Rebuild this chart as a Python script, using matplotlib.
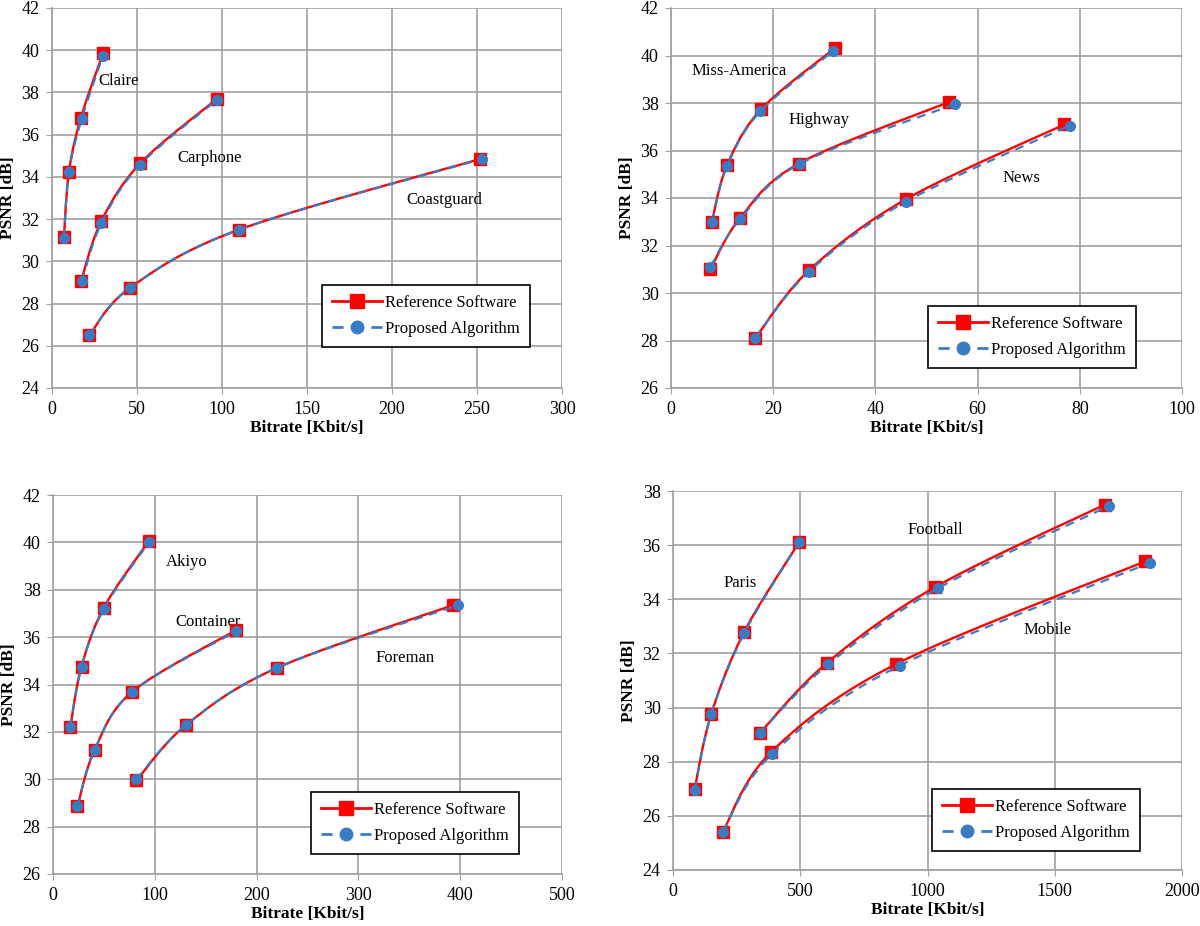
import matplotlib
matplotlib.use("Agg")
import matplotlib.pyplot as plt
import numpy as np

plt.rcParams["font.family"] = ["Liberation Serif", "DejaVu Serif"]

RED = "#ff0000"
BLUE = "#3a7cc4"

# ---- data ----
# panel 1
claire_x_ref = [7, 10, 17, 30]
claire_y_ref = [31.15, 34.25, 36.8, 39.85]
claire_x_pro = [7, 10, 17.5, 30]
claire_y_pro = [31.1, 34.25, 36.75, 39.75]
carphone_x_ref = [17, 29, 52, 97]
carphone_y_ref = [29.05, 31.9, 34.65, 37.7]
carphone_x_pro = [17.5, 29, 51.5, 97]
carphone_y_pro = [29.05, 31.8, 34.55, 37.65]
coast_x_ref = [22, 46, 110, 252]
coast_y_ref = [26.5, 28.75, 31.5, 34.85]
coast_x_pro = [22, 46, 110, 253]
coast_y_pro = [26.5, 28.75, 31.5, 34.85]

# panel 2
miss_x_ref = [8, 11, 17.7, 32]
miss_y_ref = [33.0, 35.4, 37.75, 40.3]
miss_x_pro = [8, 11, 17.5, 31.8]
miss_y_pro = [33.0, 35.35, 37.65, 40.2]
highway_x_ref = [7.7, 13.5, 25, 54.5]
highway_y_ref = [31.0, 33.15, 35.45, 38.05]
highway_x_pro = [7.7, 13.5, 25.3, 55.5]
highway_y_pro = [31.1, 33.1, 35.45, 37.95]
news_x_ref = [16.5, 27, 46, 77]
news_y_ref = [28.1, 30.95, 33.95, 37.1]
news_x_pro = [16.5, 27, 46, 78]
news_y_pro = [28.1, 30.9, 33.85, 37.05]

# panel 3
akiyo_x_ref = [17, 28, 50, 94]
akiyo_y_ref = [32.2, 34.75, 37.25, 40.05]
akiyo_x_pro = [17, 28, 50, 94]
akiyo_y_pro = [32.2, 34.75, 37.2, 40.0]
container_x_ref = [24, 41, 78, 180]
container_y_ref = [28.85, 31.25, 33.7, 36.3]
container_x_pro = [24, 41, 78, 180]
container_y_pro = [28.85, 31.25, 33.7, 36.25]
foreman_x_ref = [82, 131, 220, 393]
foreman_y_ref = [29.95, 32.3, 34.7, 37.35]
foreman_x_pro = [82, 131, 220, 398]
foreman_y_pro = [30.0, 32.3, 34.7, 37.35]

# panel 4
paris_x_ref = [85, 150, 280, 495]
paris_y_ref = [27.0, 29.75, 32.8, 36.1]
paris_x_pro = [85, 150, 280, 495]
paris_y_pro = [26.95, 29.75, 32.75, 36.1]
football_x_ref = [340, 605, 1030, 1697]
football_y_ref = [29.05, 31.65, 34.45, 37.5]
football_x_pro = [340, 610, 1040, 1713]
football_y_pro = [29.05, 31.6, 34.4, 37.45]
mobile_x_ref = [195, 385, 875, 1855]
mobile_y_ref = [25.4, 28.35, 31.6, 35.4]
mobile_x_pro = [195, 390, 890, 1874]
mobile_y_pro = [25.4, 28.3, 31.55, 35.35]


def smooth(xs, ys, n=30):
    # Excel-like smoothed line: Catmull-Rom bezier through the points
    p = np.column_stack([xs, ys]).astype(float)
    p = np.vstack([p[0], p, p[-1]])
    out = []
    t = np.linspace(0, 1, n)[:, None]
    for i in range(1, len(p) - 2):
        p0, p1, p2, p3 = p[i - 1], p[i], p[i + 1], p[i + 2]
        c1 = p1 + (p2 - p0) / 6
        c2 = p2 - (p3 - p1) / 6
        seg = ((1 - t) ** 3) * p1 + 3 * ((1 - t) ** 2) * t * c1 + 3 * (1 - t) * t ** 2 * c2 + t ** 3 * p2
        out.append(seg)
    out = np.vstack(out)
    return out[:, 0], out[:, 1]


def draw_series(ax, xr, yr, xp, yp):
    sx, sy = smooth(xr, yr)
    ax.plot(sx, sy, color=RED, lw=1.7, zorder=3)
    ax.plot(xr, yr, ls="none", marker="s", ms=8, color=RED, zorder=4)
    sx, sy = smooth(xp, yp)
    ax.plot(sx, sy, color=BLUE, lw=1.6, ls=(0, (4, 3)), zorder=5)
    ax.plot(xp, yp, ls="none", marker="o", ms=7, color=BLUE, zorder=6)


def style_axes(ax, xlim, xstep, ylim, legend_pos):
    ax.set_xlim(*xlim)
    ax.set_ylim(*ylim)
    ax.set_xticks(np.arange(xlim[0], xlim[1] + 0.1, xstep))
    ax.set_yticks(np.arange(ylim[0], ylim[1] + 0.1, 2))
    ax.grid(True, color="#a0a0a0", lw=1.2)
    ax.set_axisbelow(True)
    for s in ["top", "right"]:
        ax.spines[s].set_visible(False)
    for s in ["left", "bottom"]:
        ax.spines[s].set_color("#a0a0a0")
        ax.spines[s].set_linewidth(1.2)
    ax.tick_params(labelsize=13, length=4, color="#a0a0a0", pad=5)
    ax.set_xlabel("Bitrate [Kbit/s]", fontsize=12.5, fontweight="bold", labelpad=2)
    ax.set_ylabel("PSNR [dB]", fontsize=12.5, fontweight="bold", labelpad=4)
    h1 = plt.Line2D([], [], color=RED, lw=2, marker="s", ms=10)
    h2 = plt.Line2D([], [], color=BLUE, lw=2, ls=(0, (4, 3)), marker="o", ms=9)
    leg = ax.legend([h1, h2], ["Reference Software", "Proposed Algorithm"],
                    loc="upper left", bbox_to_anchor=legend_pos, fontsize=12,
                    fancybox=False, framealpha=1, edgecolor="black",
                    handlelength=3.0, handletextpad=0.2, borderpad=0.6,
                    labelspacing=0.6, borderaxespad=0)
    leg.get_frame().set_linewidth(1.2)
    leg.set_zorder(10)


fig = plt.figure(figsize=(12, 9.26), dpi=100)
W, H = 1200, 926


def add_axes(left, right, top, bottom):
    return fig.add_axes([left / W, 1 - bottom / H, (right - left) / W, (bottom - top) / H])


ax1 = add_axes(52, 562, 8, 388)
draw_series(ax1, claire_x_ref, claire_y_ref, claire_x_pro, claire_y_pro)
draw_series(ax1, carphone_x_ref, carphone_y_ref, carphone_x_pro, carphone_y_pro)
draw_series(ax1, coast_x_ref, coast_y_ref, coast_x_pro, coast_y_pro)
style_axes(ax1, (0, 300), 50, (24, 42), (0.529, 0.271))
ax1.text(39, 38.55, "Claire", fontsize=12, ha="center", va="center")
ax1.text(93, 34.9, "Carphone", fontsize=12, ha="center", va="center")
ax1.text(230.6, 32.9, "Coastguard", fontsize=12, ha="center", va="center")

ax2 = add_axes(671, 1182, 8, 388)
draw_series(ax2, miss_x_ref, miss_y_ref, miss_x_pro, miss_y_pro)
draw_series(ax2, highway_x_ref, highway_y_ref, highway_x_pro, highway_y_pro)
draw_series(ax2, news_x_ref, news_y_ref, news_x_pro, news_y_pro)
style_axes(ax2, (0, 100), 20, (26, 42), (0.503, 0.216))
ax2.text(13.3, 39.35, "Miss-America", fontsize=12, ha="center", va="center")
ax2.text(29, 37.28, "Highway", fontsize=12, ha="center", va="center")
ax2.text(68.5, 34.84, "News", fontsize=12, ha="center", va="center")

ax3 = add_axes(53, 562, 495, 874)
draw_series(ax3, akiyo_x_ref, akiyo_y_ref, akiyo_x_pro, akiyo_y_pro)
draw_series(ax3, container_x_ref, container_y_ref, container_x_pro, container_y_pro)
draw_series(ax3, foreman_x_ref, foreman_y_ref, foreman_x_pro, foreman_y_pro)
style_axes(ax3, (0, 500), 100, (26, 42), (0.507, 0.216))
ax3.text(131.6, 39.17, "Akiyo", fontsize=12, ha="center", va="center")
ax3.text(152, 36.64, "Container", fontsize=12, ha="center", va="center")
ax3.text(345.8, 35.12, "Foreman", fontsize=12, ha="center", va="center")

ax4 = add_axes(673, 1182, 491, 870)
draw_series(ax4, paris_x_ref, paris_y_ref, paris_x_pro, paris_y_pro)
draw_series(ax4, football_x_ref, football_y_ref, football_x_pro, football_y_pro)
draw_series(ax4, mobile_x_ref, mobile_y_ref, mobile_x_pro, mobile_y_pro)
style_axes(ax4, (0, 2000), 500, (24, 38), (0.509, 0.214))
ax4.text(263, 34.6, "Paris", fontsize=12, ha="center", va="center")
ax4.text(1029, 36.56, "Football", fontsize=12, ha="center", va="center")
ax4.text(1470, 32.87, "Mobile", fontsize=12, ha="center", va="center")

fig.savefig("out.png", dpi=100, facecolor="white")
